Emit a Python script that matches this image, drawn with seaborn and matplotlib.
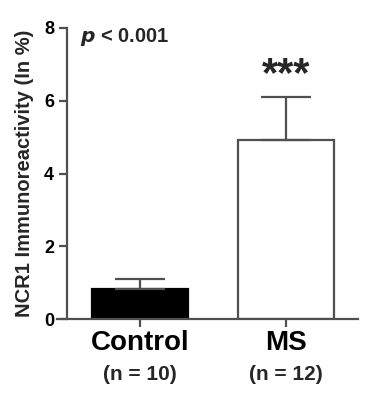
import matplotlib
matplotlib.use('Agg')
import matplotlib.pyplot as plt
import matplotlib.transforms as mtransforms
import seaborn as sns
import pandas as pd

# values
groups = ['Control', 'MS']
n_labels = ['(n = 10)', '(n = 12)']
means = [0.82, 4.93]
sems = [0.27, 1.17]
bar_colors = ['black', 'white']
y_ticks = [0, 2, 4, 6, 8]

sns.set_style('ticks')
plt.rcParams['font.family'] = ['Liberation Sans', 'DejaVu Sans']
plt.rcParams['font.weight'] = 'bold'
plt.rcParams['axes.labelweight'] = 'bold'

df = pd.DataFrame({'group': groups, 'value': means})

fig = plt.figure(figsize=(3.86, 4.05), dpi=100)
ax = fig.add_axes([0.148, 0.212, 0.779, 0.719])

edge = '#505050'
sns.barplot(data=df, x='group', y='value', hue='group', palette=bar_colors,
            edgecolor=edge, linewidth=1.6, width=0.66, errorbar=None,
            legend=False, ax=ax)
ax.patches[0].set_edgecolor('black')

# one-sided error bars (up only)
ax.errorbar(range(len(groups)), means, yerr=[[0] * len(sems), sems],
            fmt='none', ecolor=edge, elinewidth=1.6, capsize=18, capthick=1.6)

ax.set_xlim(-0.57, 1.49)
ax.set_ylim(0, 8)
ax.set_yticks(y_ticks)
ax.set_xticks(range(len(groups)))
ax.set_xticklabels(groups)
ax.set_xlabel('')
ax.set_ylabel('NCR1 Immunoreactivity (In %)', fontsize=14.5, fontweight='bold',
              labelpad=7)

for side in ['top', 'right']:
    ax.spines[side].set_visible(False)
ax.spines['left'].set_position(('data', -0.5))
ax.spines['left'].set_bounds(0, 8)
for side in ['left', 'bottom']:
    ax.spines[side].set_color(edge)
    ax.spines[side].set_linewidth(1.6)
ax.tick_params(axis='both', colors=edge, width=1.6, length=6, labelcolor='black')
ax.tick_params(axis='y', labelsize=13)
ax.tick_params(axis='x', labelsize=20, pad=2)
for lbl in ax.get_xticklabels() + ax.get_yticklabels():
    lbl.set_fontweight('bold')

trans = mtransforms.blended_transform_factory(ax.transData, ax.transAxes)
for i, lab in enumerate(n_labels):
    ax.text(i, -0.19, lab, transform=trans, ha='center', va='center',
            fontsize=15, fontweight='bold')

ax.text(-0.41, 7.75, r'$\boldsymbol{p}$ < 0.001', fontsize=14.5, fontweight='bold',
        va='center', ha='left')

ax.text(1, means[1] + sems[1] + 0.6, '***', fontsize=30, fontweight='bold',
        ha='center', va='center')

fig.savefig('out.png', dpi=100, facecolor='white')
